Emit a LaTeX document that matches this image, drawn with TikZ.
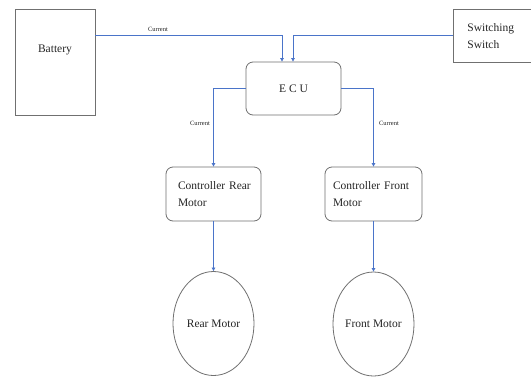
\documentclass[tikz,border=0pt]{standalone}
\usepackage{fontspec}
\setmainfont{Liberation Serif}
\usetikzlibrary{arrows.meta,shapes.geometric}
\definecolor{lineblue}{HTML}{4A74C9}
\definecolor{boxgrey}{HTML}{707070}
\definecolor{textgrey}{HTML}{262626}
\begin{document}
\begin{tikzpicture}[x=1pt,y=-1pt,
  every node/.style={font=\fontsize{11.5}{17}\selectfont,text=textgrey},
  plainbox/.style={draw=boxgrey,line width=0.8pt,rectangle,inner sep=0pt},
  roundbox/.style={draw=boxgrey,line width=0.8pt,rectangle,rounded corners=7pt,inner sep=0pt},
  motor/.style={draw=boxgrey,line width=0.8pt,ellipse,inner sep=0pt,minimum width=81pt,minimum height=104pt},
  conn/.style={draw=lineblue,line width=0.8pt,-{Triangle[width=3.6pt,length=3.6pt]}},
  curlabel/.style={font=\fontsize{6.5}{7}\selectfont,inner sep=0pt}]
\useasboundingbox (0,0) rectangle (531,376);
\fill[white] (0,0) rectangle (531,376);

\node[plainbox,minimum width=80pt,minimum height=106pt,
  label={[name=batterytext,yshift=12pt]center:Battery}] (battery) at (55,62) {};
\node[plainbox,anchor=north west,minimum height=53pt,text width=70pt,inner xsep=14pt,
  align=left] (switch) at (453,9) {\raisebox{-5pt}{\parbox{70pt}{Switching\\Switch}}};
\node[roundbox,minimum width=95pt,minimum height=53pt] (ecu) at (293.5,88.5) {E C U};
\node[roundbox,minimum height=54pt,text width=83pt,inner xsep=6pt,align=left]
  (crear) at (213.5,194) {\hspace*{6pt}Controller Rear\\\hspace*{6pt}Motor};
\node[roundbox,minimum height=54pt,text width=85pt,inner xsep=6pt,align=left]
  (cfront) at (373.5,194) {\hspace*{2pt}Controller Front\\\hspace*{2pt}Motor};
\node[motor] (rmotor) at (213.5,323.5) {Rear Motor};
\node[motor] (fmotor) at (373.5,324) {Front Motor};

\draw[conn] (battery.east |- 0,35) -| ([xshift=-11.5pt]ecu.north);
\draw[conn] (switch.west |- 0,35) -| ([xshift=-0.5pt]ecu.north);
\draw[conn] (ecu.west) -| (crear.north);
\draw[conn] (ecu.east) -| (cfront.north);
\draw[conn] (crear.south) -- (rmotor.north);
\draw[conn] (cfront.south) -- (fmotor.north);

\node[curlabel] (cur1) at (158,29) {Current};
\node[curlabel] (cur2) at (200,123.5) {Current};
\node[curlabel] (cur3) at (389,123.5) {Current};
\end{tikzpicture}
\end{document}
